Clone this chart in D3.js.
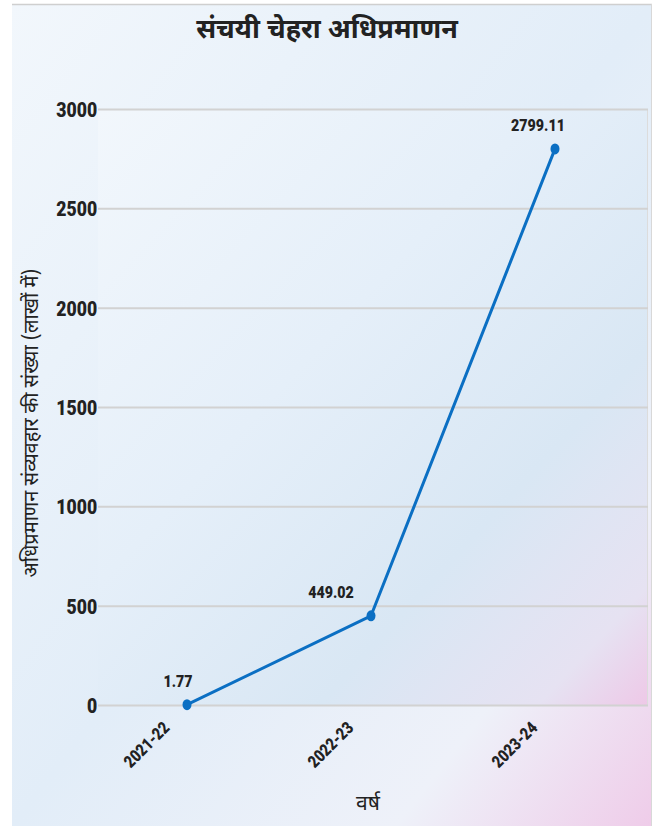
<!DOCTYPE html>
<html><head><meta charset="utf-8">
<script src="https://cdn.jsdelivr.net/npm/d3@7"></script>
<style>
html,body{margin:0;padding:0;background:#fff;}
svg{display:block;}
</style></head>
<body>
<script>
const title = "संचयी चेहरा अधिप्रमाणन";
const yTitle = "अधिप्रमाणन संव्यवहार की संख्या (लाखों में)";
const xTitle = "वर्ष";
const categories = ["2021-22", "2022-23", "2023-24"];
const values = [1.77, 449.02, 2799.11];
const valueLabels = ["1.77", "449.02", "2799.11"];
const yTicks = [0, 500, 1000, 1500, 2000, 2500, 3000];
const labelDx = [-9, -40, -17];

const W = 661, H = 826;
const numFont = "Roboto,'Liberation Sans',sans-serif";
const devFont = "'Noto Sans Devanagari','Noto Sans','Lohit Devanagari',sans-serif";
const squeeze = 0.84;

const svg = d3.select("body").append("svg").attr("width", W).attr("height", H);
const defs = svg.append("defs");

const g1 = defs.append("linearGradient").attr("id","panelGrad")
  .attr("x1","0").attr("y1","0").attr("x2","1").attr("y2","1");
g1.append("stop").attr("offset","0").attr("stop-color","#f2f7fc");
g1.append("stop").attr("offset","0.5").attr("stop-color","#e2edf8");
g1.append("stop").attr("offset","0.8").attr("stop-color","#eef1f9");
g1.append("stop").attr("offset","1").attr("stop-color","#efcce9");

const g2 = defs.append("linearGradient").attr("id","plotGrad")
  .attr("x1","0").attr("y1","0").attr("x2","1").attr("y2","1");
g2.append("stop").attr("offset","0").attr("stop-color","#f2f7fc");
g2.append("stop").attr("offset","0.4").attr("stop-color","#e5eff9");
g2.append("stop").attr("offset","0.7").attr("stop-color","#d9e7f4");
g2.append("stop").attr("offset","0.9").attr("stop-color","#e6e2f2");
g2.append("stop").attr("offset","1").attr("stop-color","#eec8e7");

// outer panel
svg.append("rect").attr("x",12).attr("y",4).attr("width",640).attr("height",822)
  .attr("fill","url(#panelGrad)");
svg.append("line").attr("x1",12).attr("x2",652).attr("y1",4.5).attr("y2",4.5)
  .attr("stroke","#cfcfcf").attr("stroke-width",1.5);
svg.append("line").attr("x1",651.5).attr("x2",651.5).attr("y1",4).attr("y2",826)
  .attr("stroke","#d8d8d8").attr("stroke-width",1);

const plot = {left: 98, right: 648, top: 109, bottom: 705};

svg.append("rect").attr("x",plot.left).attr("y",plot.top)
  .attr("width",plot.right-plot.left).attr("height",plot.bottom-plot.top)
  .attr("fill","url(#plotGrad)");
svg.append("line").attr("x1",plot.right-0.5).attr("x2",plot.right-0.5)
  .attr("y1",plot.top).attr("y2",plot.bottom)
  .attr("stroke","#dcdcdc").attr("stroke-width",1);

const x = d3.scalePoint().domain(categories).range([95, 647]).padding(0.5);
const y = d3.scaleLinear().domain([0, 3000]).range([plot.bottom, plot.top]);

// gridlines + y axis
const yAxis = d3.axisLeft(y).tickValues(yTicks).tickSize(-(plot.right-plot.left)).tickPadding(2).tickFormat(d3.format("d"));
const ya = svg.append("g").attr("transform",`translate(${plot.left},0)`).call(yAxis);
ya.select(".domain").remove();
ya.selectAll(".tick line").attr("stroke","#d2d2d2").attr("stroke-width",2);
ya.selectAll(".tick text").attr("font-family",numFont).attr("font-weight",900)
  .attr("font-size",21).attr("fill","#222").attr("dy","0.36em").attr("x",-1)
  .attr("transform",`scale(${squeeze},1)`);

// x axis
const xa = svg.append("g").attr("transform",`translate(0,${plot.bottom})`)
  .call(d3.axisBottom(x).tickSize(0));
xa.select(".domain").remove();
xa.selectAll(".tick text")
  .attr("font-family",numFont).attr("font-weight",900).attr("font-size",17)
  .attr("fill","#222").attr("text-anchor","end")
  .attr("transform",`translate(-17,24) rotate(-45) scale(${squeeze},1)`)
  .attr("x",0).attr("y",0).attr("dy",0);

// line
const line = d3.line().x((d,i)=>x(categories[i])).y(d=>y(d));
svg.append("path").datum(values).attr("d",line)
  .attr("fill","none").attr("stroke","#0b6fc3").attr("stroke-width",3)
  .attr("stroke-linejoin","round");
svg.selectAll("ellipse.pt").data(values).enter().append("ellipse").attr("class","pt")
  .attr("cx",(d,i)=>x(categories[i])).attr("cy",d=>y(d))
  .attr("rx",4.5).attr("ry",5.5).attr("fill","#0b6fc3");

// value labels
svg.selectAll("text.vl").data(values).enter().append("text").attr("class","vl")
  .attr("transform",(d,i)=>`translate(${x(categories[i])+labelDx[i]},${y(d)-18}) scale(${squeeze},1)`)
  .attr("text-anchor","middle").attr("font-family",numFont).attr("font-weight",900)
  .attr("font-size",17).attr("fill","#222").text((d,i)=>valueLabels[i]);

// title
svg.append("text").attr("x",327).attr("y",38).attr("text-anchor","middle")
  .attr("font-family",devFont).attr("font-weight","bold").attr("font-size",27)
  .attr("fill","#222").text(title);

// axis titles
svg.append("text").attr("transform",`translate(38,423) rotate(-90)`)
  .attr("text-anchor","middle").attr("font-family",devFont).attr("font-size",20)
  .attr("fill","#222").text(yTitle);
svg.append("text").attr("x",368).attr("y",810).attr("text-anchor","middle")
  .attr("font-family",devFont).attr("font-size",21).attr("fill","#222").text(xTitle);
</script>
</body></html>
